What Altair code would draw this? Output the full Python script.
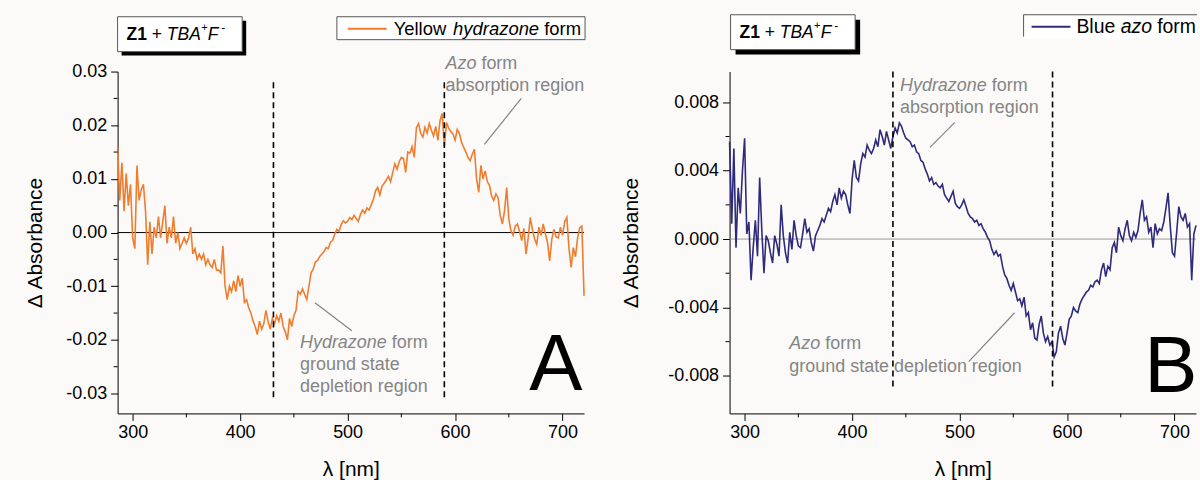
import altair as alt
import pandas as pd

FONT = "Liberation Sans"
ORANGE = "#EE7D2F"
NAVY = "#2E2B7C"
GRAY = "#858585"
BG = "#FBFAF8"

# wavelength grid (nm), 2 nm sampling
wl = list(range(286, 721, 2))

# Panel A: Z1 + TBA+F-, yellow hydrazone form (delta absorbance)
dA = [
    0.016, 0.006, 0.013, 0.004, 0.011, 0.005, 0.009, -0.001, -0.003, 0.0125,
    0.006, 0.008, 0.009, 0.004, -0.006, 0.002, -0.004, 0.001, -0.001, 0.003,
    -0.001, 0.002, 0.005, -0.002, 0.001, -0.001, 0.003, -0.002, 0.0, -0.003,
    -0.002, -0.001, -0.002, -0.001, 0.001, -0.004, -0.003, -0.005, -0.004, -0.005,
    -0.004, -0.006, -0.005, -0.006, -0.0065, -0.005, -0.007, -0.007, -0.0075, -0.0025,
    -0.010, -0.0125, -0.010, -0.011, -0.009, -0.011, -0.008, -0.010, -0.0085, -0.013,
    -0.0125, -0.014, -0.015, -0.0165, -0.0175, -0.019, -0.0165, -0.018, -0.017, -0.0145,
    -0.0165, -0.018, -0.016, -0.017, -0.0155, -0.0165, -0.015, -0.0175, -0.0185, -0.020,
    -0.016, -0.0175, -0.0155, -0.0145, -0.011, -0.0115, -0.0105, -0.0115, -0.0125, -0.010,
    -0.0075, -0.0068, -0.0055, -0.0052, -0.0045, -0.004, -0.0036, -0.0028, -0.003, -0.0018,
    -0.0015, -0.0003, 0.0006, 0.0002, 0.0015, 0.0022, 0.0018, 0.0021, 0.0028, 0.0024,
    0.0032, 0.0026, 0.0021, 0.0034, 0.0042, 0.0036, 0.0046, 0.0042, 0.0052, 0.0062,
    0.0078, 0.0084, 0.0070, 0.0086, 0.0092, 0.0098, 0.0105, 0.0095, 0.0112, 0.0128,
    0.0118, 0.0132, 0.0140, 0.0138, 0.0112, 0.0150, 0.0148, 0.0160, 0.0140, 0.0195,
    0.0203, 0.0185, 0.0178, 0.0196, 0.0185, 0.0203, 0.0190, 0.0180, 0.0198, 0.0172,
    0.0209, 0.0222, 0.0160, 0.0205, 0.0195, 0.0188, 0.0184, 0.0172, 0.0192, 0.0185,
    0.0168, 0.0159, 0.0150, 0.0140, 0.0134, 0.0146, 0.0155, 0.0100, 0.0075, 0.0125,
    0.0100, 0.0115, 0.0095, 0.0088, 0.0068, 0.0060, 0.0072, 0.0065, 0.0032, 0.0016,
    0.0040, 0.0084, 0.0025, 0.0003, -0.0005, 0.0012, 0.0016, 0.0002, -0.0015, 0.0008,
    -0.0040, -0.0010, 0.0028, 0.0005, -0.0012, -0.0022, 0.0010, -0.0005, 0.0016, -0.0002,
    -0.0018, -0.0053, -0.0012, 0.0006, -0.0008, -0.0010, 0.0010, -0.0005, 0.0020, 0.0028,
    -0.0030, -0.0065, -0.0028, -0.0045, -0.0010, 0.0009, 0.0012, -0.0118,
]

# Panel B: Z1 + TBA+F-, blue azo form (delta absorbance)
dB = [
    0.0057, 0.0009, 0.0053, -0.0005, 0.0030, 0.0015, 0.0040, 0.0059, 0.0003, 0.0010,
    -0.0024, -0.0005, 0.0011, -0.0010, 0.0036, 0.0005, -0.0020, 0.0002, -0.0001, -0.0008,
    -0.0014, 0.0002, -0.0003, -0.0010, 0.0020, 0.0002, -0.0008, -0.0014, 0.0004, -0.0006,
    0.0011, 0.0002, -0.0004, -0.0005, 0.0003, 0.0012, 0.0004, 0.0006, -0.0002, -0.0007,
    0.0002, 0.0005, 0.0008, 0.0012, 0.0010, 0.0014, 0.0018, 0.0016, 0.0022, 0.0026,
    0.0020, 0.0030, 0.0024, 0.0028, 0.0026, 0.0020, 0.0015, 0.0035, 0.0046, 0.0036,
    0.0034, 0.0044, 0.0050, 0.0048, 0.0055, 0.0052, 0.0050, 0.0053, 0.0058, 0.0054,
    0.0064, 0.0060, 0.0055, 0.0063, 0.0058, 0.0053, 0.0060, 0.0065, 0.0062, 0.0068,
    0.0066, 0.0062, 0.0059, 0.0058, 0.0057, 0.0054, 0.0055, 0.0051, 0.0050, 0.0046,
    0.0045, 0.0041, 0.0038, 0.0034, 0.0036, 0.0032, 0.0033, 0.0031, 0.0030, 0.0032,
    0.0026, 0.0024, 0.0022, 0.0025, 0.0028, 0.0021, 0.0019, 0.0018, 0.0020, 0.0023,
    0.0019, 0.0015, 0.0013, 0.0012, 0.0010, 0.0011, 0.0008, 0.0009, 0.0006, 0.0004,
    0.0001, -0.0001, -0.0006, -0.0009, -0.0007, -0.0010, -0.0009, -0.0016, -0.0021, -0.0023,
    -0.0027, -0.0030, -0.0026, -0.0031, -0.0036, -0.0035, -0.0039, -0.0034, -0.0045, -0.0043,
    -0.0053, -0.0049, -0.0058, -0.0059, -0.0050, -0.0045, -0.0055, -0.0060, -0.0057, -0.0062,
    -0.0060, -0.0069, -0.0066, -0.0055, -0.0051, -0.0058, -0.0062, -0.0055, -0.0047, -0.0045,
    -0.0040, -0.0042, -0.0043, -0.0038, -0.0035, -0.0033, -0.0031, -0.0030, -0.0027, -0.0028,
    -0.0025, -0.0024, -0.0026, -0.0018, -0.0014, -0.0022, -0.0016, -0.0018, -0.0005, -0.0002,
    -0.0008, 0.0007, 0.0002, -0.0001, 0.0006, 0.0011, 0.0002, -0.0001, 0.0004, 0.0001,
    0.0005, 0.0015, 0.0023, 0.0011, 0.0013, 0.0004, 0.0007, -0.0005, 0.0009, 0.0003,
    0.0006, 0.0005, 0.0010, 0.0018, 0.0027, 0.0008, -0.0008, -0.0010, 0.0004, 0.0019,
    0.0013, 0.0011, 0.0015, 0.0007, 0.0009, -0.0024, 0.0003, 0.0008,
]

x_ticks = [300, 400, 500, 600, 700]
x_minor = [350, 450, 550, 650]
yA_ticks = [-0.03, -0.02, -0.01, 0.0, 0.01, 0.02, 0.03]
yA_minor = [-0.025, -0.015, -0.005, 0.005, 0.015, 0.025]
yB_ticks = [-0.008, -0.004, 0.0, 0.004, 0.008]
yB_minor = [-0.006, -0.002, 0.002, 0.006]

dashA = [431, 590]
dashB = [438, 586.5]

W, H = 468, 343
XDOM = [286, 720]
YA_DOM = [-0.0337, 0.03]
YB_DOM = [-0.0102, 0.0098]

ONE = alt.Data(values=[{"a": 1}])


def txt(s, x, y, size=18, color=GRAY, style="normal", weight="normal", baseline="middle", align="left"):
    return alt.Chart(ONE).mark_text(
        text=s, font=FONT, fontSize=size, fontStyle=style, fontWeight=weight,
        color=color, align=align, baseline=baseline,
    ).encode(x=alt.value(x), y=alt.value(y))


def seg(x1, y1, x2, y2, color=GRAY, width=1.2, dash=None):
    kw = dict(color=color, strokeWidth=width)
    if dash:
        kw["strokeDash"] = dash
    return alt.Chart(ONE).mark_rule(**kw).encode(
        x=alt.value(x1), y=alt.value(y1), x2=alt.value(x2), y2=alt.value(y2))


def box(x1, y1, x2, y2, fill, stroke=None):
    kw = dict(fill=fill)
    if stroke:
        kw.update(stroke=stroke, strokeWidth=1)
    return alt.Chart(ONE).mark_rect(**kw).encode(
        x=alt.value(x1), y=alt.value(y1), x2=alt.value(x2), y2=alt.value(y2))


def axis_fmt(fmt, values, title_pad):
    return alt.Axis(
        values=values, grid=False, tickSize=7, tickColor="black", domainColor="black",
        labelFont=FONT, labelFontSize=18, labelColor="black", labelPadding=4,
        labelExpr=f"(datum.value < 0 ? '-' : '') + format(abs(datum.value), '{fmt}')",
        titleFont=FONT, titleFontSize=21, titleFontWeight="normal", titleColor="black",
        titlePadding=title_pad,
    )


def title_box(x0, y0, shadow):
    # boxed "Z1 + TBA+F-" label with drop shadow; (x0, y0) = top-left of the white box
    return [
        box(x0 + shadow, y0 + shadow, x0 + 125 + shadow, y0 + 35 + shadow, "black"),
        box(x0, y0, x0 + 125, y0 + 35, "white", "#555555"),
        txt("Z1", x0 + 9, y0 + 18, size=17.5, color="black", weight="bold"),
        txt("+", x0 + 34.3, y0 + 18, size=17.5, color="black"),
        txt("TBA", x0 + 49.4, y0 + 18, size=17.5, color="black", style="italic"),
        txt("+", x0 + 83.8, y0 + 11, size=11, color="black"),
        txt("F", x0 + 90.5, y0 + 18, size=17.5, color="black", style="italic"),
        txt("-", x0 + 104, y0 + 11, size=12, color="black"),
    ]


def panel(values, color, ydom, yt, ym, yfmt, ytitle_pad, dash_x, dash_y, zero_color):
    df = pd.DataFrame({"wl": wl, "v": values})
    xs = alt.Scale(domain=XDOM, nice=False, zero=False)
    ys = alt.Scale(domain=ydom, nice=False, zero=False)
    xaxis = alt.Axis(
        values=x_ticks, grid=False, tickSize=7, tickColor="black", domainColor="black",
        labelFont=FONT, labelFontSize=18, labelColor="black", labelPadding=3, format="d",
        titleFont=FONT, titleFontSize=21, titleFontWeight="normal", titleColor="black",
        titlePadding=17,
    )
    line = alt.Chart(df).mark_line(color=color, strokeWidth=1.6).encode(
        x=alt.X("wl:Q", scale=xs, axis=xaxis, title="λ [nm]"),
        y=alt.Y("v:Q", scale=ys, axis=axis_fmt(yfmt, yt, ytitle_pad), title="Δ Absorbance"),
    )
    zero = alt.Chart(pd.DataFrame({"z": [0.0]})).mark_rule(color=zero_color, strokeWidth=1).encode(y="z:Q")
    dash = alt.Chart(pd.DataFrame({"x": dash_x, "y1": [dash_y[0]] * 2, "y2": [dash_y[1]] * 2})).mark_rule(
        color="black", strokeWidth=1.6, strokeDash=[6, 4]).encode(x="x:Q", y="y1:Q", y2="y2:Q")
    yminor = alt.Chart(pd.DataFrame({"m": ym})).mark_rule(color="black", strokeWidth=1).encode(
        y="m:Q", x=alt.value(0), x2=alt.value(-4))
    xminor = alt.Chart(pd.DataFrame({"m": x_minor})).mark_rule(color="black", strokeWidth=1).encode(
        x="m:Q", y=alt.value(H), y2=alt.value(H + 4))
    return [zero, line, dash, yminor, xminor]


# ---- Panel A ----
layersA = panel(dA, ORANGE, YA_DOM, yA_ticks, yA_minor, ".2f", 20, dashA, [0.028, -0.031], "black")
layersA += [seg(-117, -70, -116, -70, color=BG, width=1)]  # layout anchor
layersA += title_box(0, -55, 4)
layersA += [
    box(220, -55, 469, -32, "white", "#555555"),
    seg(231, -43, 270, -43, color=ORANGE, width=2),
    txt("Yellow", 277, -43, size=18.5, color="black"),
    txt("hydrazone", 336.6, -43, size=18.5, color="black", style="italic"),
    txt("form", 428, -43, size=18.5, color="black"),
    txt("Azo", 329, -8, style="italic"),
    txt("form", 365, -8),
    txt("absorption region", 329, 15),
    seg(368, 73, 405, 27),
    txt("Hydrazone", 183, 272, style="italic"),
    txt("form", 275, 272),
    txt("ground state", 183, 294),
    txt("depletion region", 183, 317),
    seg(198, 232, 235, 260),
    txt("A", 413, 320, size=80, color="black", baseline="alphabetic"),
]
chartA = alt.layer(*layersA).properties(width=W, height=H)

# ---- Panel B ----
layersB = panel(dB, NAVY, YB_DOM, yB_ticks, yB_minor, ".3f", 26, dashB, [0.0098, -0.0087], "#9a9a9a")
layersB += title_box(1, -57, 5)
layersB += [
    box(295, -57, 469, -33, "white"),
    seg(295, -57, 469, -57, color="#555555", width=1),
    seg(295, -57, 295, -35, color="#555555", width=1),
    seg(303, -45, 342, -45, color=NAVY, width=2),
    txt("Blue", 348, -45, size=19.5, color="black"),
    txt("azo", 392.4, -45, size=19.5, color="black", style="italic"),
    txt("form", 429, -45, size=19.5, color="black"),
    txt("Hydrazone", 171, 15, style="italic"),
    txt("form", 263, 15),
    txt("absorption region", 171, 37),
    seg(201, 76, 226, 51),
    txt("Azo", 60, 273, style="italic"),
    txt("form", 96, 273),
    txt("ground state depletion region", 60, 296),
    seg(286, 242, 240, 291),
    txt("B", 416, 322, size=80, color="black", baseline="alphabetic"),
]
chartB = alt.layer(*layersB).properties(width=W, height=H)

chart = alt.hconcat(chartA, chartB, spacing=146, bounds="flush").properties(
    padding=0, background=BG
).configure_view(stroke=None)

chart.save("out.html", embed_options={"renderer": "svg", "actions": False})
